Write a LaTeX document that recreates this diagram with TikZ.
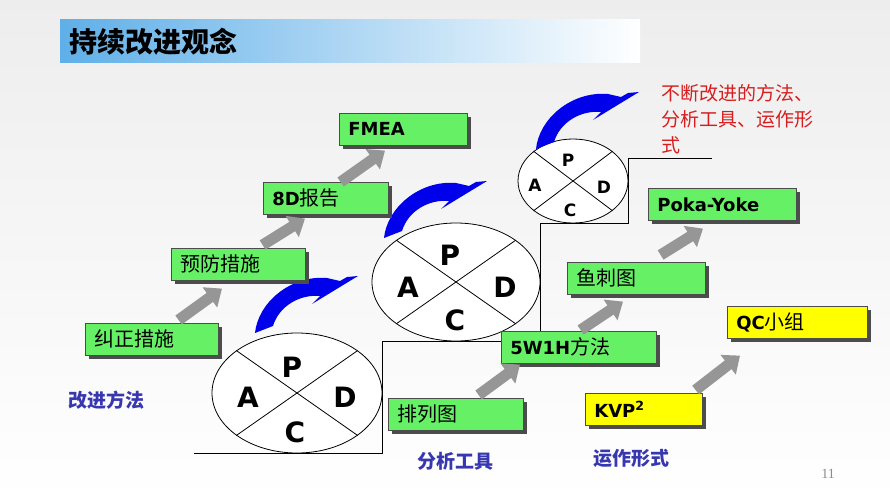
\documentclass[tikz,border=0pt]{standalone}
\usepackage{fontspec}
\setmainfont{DejaVu Sans}
\newfontfamily\cjk{Noto Sans CJK SC}
\newfontfamily\pgfont{Liberation Serif}
\usetikzlibrary{arrows.meta,shapes.geometric,shadows,calc}
\definecolor{boxgreen}{RGB}{102,240,102}
\definecolor{boxyellow}{RGB}{255,255,0}
\definecolor{turnblue}{RGB}{0,0,235}
\definecolor{labelblue}{RGB}{55,55,175}
\definecolor{notered}{RGB}{215,30,30}
\definecolor{arrowgray}{RGB}{150,150,150}
\definecolor{titleblue}{RGB}{95,175,232}
\newcommand\ltn[1]{{\rmfamily\bfseries\fontsize{18}{22}\selectfont #1}}
\tikzset{
  tool box/.style={
    draw=black!70,
    line width=0.6pt,
    fill=boxgreen,
    anchor=north west,
    minimum height=32pt,
    inner xsep=9pt,
    align=left,
    font=\cjk\fontsize{20}{24}\selectfont,
    drop shadow={shadow xshift=3.5pt,shadow yshift=-3.5pt,fill=black!70,opacity=1},
  },
  form box/.style={tool box, fill=boxyellow},
  pdca/.style={ellipse, draw, line width=0.8pt, fill=white, inner sep=0pt},
  pdca line/.style={line width=0.8pt},
  pdca letter/.style={font=\bfseries\fontsize{28}{30}\selectfont, inner sep=0pt},
  small letter/.style={font=\bfseries\fontsize{17}{19}\selectfont, inner sep=0pt},
  grey arrow/.style={draw=arrowgray, line width=11pt, -{Triangle[width=24pt,length=15pt]}},
  stair line/.style={line width=1pt},
  group label/.style={text=labelblue, font=\cjk\bfseries\fontsize{19}{22}\selectfont},
  pdca turn/.pic={
    \fill[turnblue] (0,0) .. controls (3,-30) and (35,-58) .. (72,-55)
      -- (85,-52) -- (92,-56) -- (103,-57) -- (57,-29) -- (65,-37)
      .. controls (45,-39) and (24,-27) .. (18,-7) -- cycle;
  },
}
\begin{document}
\begin{tikzpicture}[x=1pt,y=-1pt]
  \useasboundingbox (0,0) rectangle (890,500);
  \fill[top color=black!7, bottom color=white] (0,0) rectangle (890,500);

  % title
  \fill[left color=titleblue, right color=white] (60,20) rectangle (640,63);
  \node[anchor=west, font=\cjk\bfseries\fontsize{28}{32}\selectfont] (title) at (66,42) {持续改进观念};

  % pdca wheels
  \node[pdca, minimum width=170pt, minimum height=120pt] (e1) at (297,393) {};
  \node[pdca, minimum width=168pt, minimum height=118pt] (e2) at (456,282) {};
  \node[pdca, minimum width=110pt, minimum height=84pt] (e3) at (573,181) {};

  \draw[pdca line] (e1.35) -- (e1.-145);
  \draw[pdca line] (e1.145) -- (e1.-35);
  \draw[pdca line] (e2.35) -- (e2.-145);
  \draw[pdca line] (e2.145) -- (e2.-35);
  \draw[pdca line] (e3.37) -- (e3.-143);
  \draw[pdca line] (e3.143) -- (e3.-37);

  \node[pdca letter] (p1) at ($(e1)+(-5,-26)$) {P};
  \node[pdca letter] (a1) at ($(e1)+(-49,4)$) {A};
  \node[pdca letter] (d1) at ($(e1)+(48,4)$) {D};
  \node[pdca letter] (c1) at ($(e1)+(-2,39)$) {C};
  \node[pdca letter] (p2) at ($(e2)+(-6,-27)$) {P};
  \node[pdca letter] (a2) at ($(e2)+(-48,5)$) {A};
  \node[pdca letter] (d2) at ($(e2)+(49,5)$) {D};
  \node[pdca letter] (c2) at ($(e2)+(-1,38)$) {C};
  \node[small letter] (p3) at ($(e3)+(-5,-21)$) {P};
  \node[small letter] (a3) at ($(e3)+(-38,4)$) {A};
  \node[small letter] (d3) at ($(e3)+(31,6)$) {D};
  \node[small letter] (c3) at ($(e3)+(-3,29)$) {C};

  % stairs under the wheels
  \draw[stair line] ($(e1.south)+(-103,0)$) -- (e1.south -| e1.east)
    -- (e1.east |- e2.south) -- (e2.south -| e2.east)
    -- (e2.east |- e3.south) -- (e3.south -| e3.east)
    -- ($(e3.east)+(0,-23)$) -- ++(84,0);

  \pic at (255,333) {pdca turn};
  \pic at (384,238) {pdca turn};
  \pic at (536,149) {pdca turn};

  % improvement methods
  \node[tool box, text width=115pt] (jz) at (85,323) {纠正措施};
  \node[tool box, text width=116pt] (yf) at (171,248) {预防措施};
  \node[tool box, text width=107pt] (d8) at (263,182) {\ltn{8D}报告};
  \node[tool box, text width=110pt] (fm) at (339,113) {\ltn{FMEA}};

  % analysis tools
  \node[tool box, text width=117pt] (pl) at (388,398) {排列图};
  \node[tool box, text width=137pt] (w5) at (501,331) {\ltn{5W1H}方法};
  \node[tool box, text width=120pt] (yc) at (567,262) {鱼刺图};
  \node[tool box, text width=130pt] (pk) at (648,188) {\ltn{Poka-Yoke}};

  % working forms
  \node[form box, text width=99pt] (kvp) at (585,393) {\ltn{KVP\textsuperscript{2}}};
  \node[form box, text width=122pt] (qc) at (727,306) {\ltn{QC}小组};

  \draw[grey arrow] ([shift={(-40,-3)}]jz.north east) -- ([shift={(51,8)}]yf.south west);
  \draw[grey arrow] ([shift={(-43,-3)}]yf.north east) -- ([shift={(42,4)}]d8.south west);
  \draw[grey arrow] ([shift={(-48,0)}]d8.north east) -- ([shift={(46,5)}]fm.south west);
  \draw[grey arrow] ([shift={(-45,-3)}]pl.north east) -- ([shift={(19,1)}]w5.south west);
  \draw[grey arrow] ([shift={(-76,-1)}]w5.north east) -- ([shift={(56,7)}]yc.south west);
  \draw[grey arrow] ([shift={(-45,-7)}]yc.north east) -- ([shift={(55,8)}]pk.south west);
  \draw[grey arrow] ([shift={(-7,-3)}]kvp.north east) -- ([shift={(13,17)}]qc.south west);

  % labels
  \node[group label] (gm) at (106,400) {改进方法};
  \node[group label] (gt) at (455,461) {分析工具};
  \node[group label] (gf) at (631,458) {运作形式};
  \node[anchor=north west, align=left, inner sep=0pt, text=notered,
    font=\cjk\fontsize{19}{26}\selectfont] (note) at (661,84)
    {不断改进的方法、\\分析工具、运作形\\式};
  \node[text=black!45, font=\pgfont\fontsize{14}{16}\selectfont] (page) at (828,474) {11};
\end{tikzpicture}
\end{document}
